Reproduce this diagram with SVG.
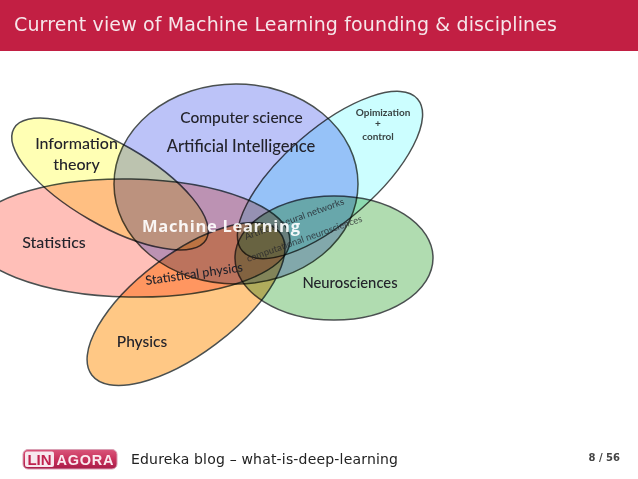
<svg xmlns="http://www.w3.org/2000/svg" width="638" height="479" viewBox="0 0 638 479">
<style>
.e{stroke:#4a5050;stroke-width:1.5;mix-blend-mode:multiply}
.t{font-family:"Lato","Open Sans",sans-serif;fill:#23232b;font-weight:500}
.s{font-weight:700;fill:#3a4444}
.d{font-family:"DejaVu Sans",sans-serif}
</style>
<defs>
<linearGradient id="lg" x1="0" y1="0" x2="0" y2="1"><stop offset="0" stop-color="#d9557a"/><stop offset=".5" stop-color="#c8325c"/><stop offset="1" stop-color="#a81c48"/></linearGradient>
</defs>
<rect width="638" height="479" fill="#fff"/>
<g id="header"><rect width="638" height="51" fill="#c21f43"/>
<text class="d" x="14" y="31" font-size="19" fill="#f6e6ea" textLength="543">Current view of Machine Learning founding &amp; disciplines</text></g>
<g id="connectors"></g>
<g id="statistics"><ellipse class="e" cx="130" cy="238" rx="160" ry="59" transform="rotate(1 130 238)" fill="#ffbfb8"/></g>
<g id="neurosciences"><ellipse class="e" cx="334" cy="258" rx="99" ry="62" fill="#b0dcb0"/></g>
<g id="computer-science"><ellipse class="e" cx="236" cy="184" rx="122" ry="100" fill="#bcc3f8"/></g>
<g id="information-theory"><ellipse class="e" cx="110" cy="184" rx="111" ry="41" transform="rotate(30 110 184)" fill="#ffffb4"/></g>
<g id="physics"><ellipse class="e" cx="186" cy="304" rx="118" ry="50" transform="rotate(-37 186 304)" fill="#ffc885"/></g>
<g id="optimization"><ellipse class="e" cx="330" cy="175" rx="116" ry="46" transform="rotate(-41 330 175)" fill="#ccfeff"/></g>
<g id="labels">
<text class="t" x="76.5" y="149" font-size="16" text-anchor="middle">Information</text>
<text class="t" x="76.5" y="170" font-size="16" text-anchor="middle">theory</text>
<text class="t" x="54" y="248" font-size="16" text-anchor="middle">Statistics</text>
<text class="t" x="241.5" y="123" font-size="15.5" text-anchor="middle">Computer science</text>
<text class="t" x="241" y="152" font-size="16.5" text-anchor="middle">Artificial Intelligence</text>
<text class="t s" x="383" y="116" font-size="10" text-anchor="middle">Opimization</text>
<text class="t s" x="378" y="127" font-size="10" text-anchor="middle">+</text>
<text class="t s" x="378" y="140" font-size="10" text-anchor="middle">control</text>
<text class="t" x="350" y="288" font-size="14.8" text-anchor="middle">Neurosciences</text>
<text class="t" x="142" y="347" font-size="15.5" text-anchor="middle">Physics</text>
<text class="t" transform="translate(146 285) rotate(-8)" font-size="12.7">Statistical physics</text>
<text class="t" transform="translate(246 240) rotate(-20)" font-size="9.5" fill-opacity=".75">Artificial neural networks</text>
<text class="t" transform="translate(248 262) rotate(-19.5)" font-size="9.5" fill-opacity=".7">computational neurosciences</text>
<text x="221" y="232" font-family="'Open Sans',sans-serif" font-weight="700" font-size="16.5" fill="#fff" fill-opacity=".92" text-anchor="middle" textLength="158">Machine Learning</text>
</g>
<g id="logo"><rect x="23" y="449.5" width="94" height="19.5" rx="5" fill="url(#lg)" stroke="#d9a0b4" stroke-width="1"/>
<rect x="25" y="451.5" width="29" height="15.5" rx="2" fill="#f7e8ee"/>
<text x="39.5" y="465" font-family="'Liberation Sans',sans-serif" font-weight="700" font-size="15" fill="#c0224e" text-anchor="middle">LIN</text>
<text x="85" y="465" font-family="'Liberation Sans',sans-serif" font-weight="700" font-size="14.5" fill="#fbeaf0" text-anchor="middle" textLength="57">AGORA</text></g>
<g id="footer"><text class="d" x="131" y="464" font-size="14" fill="#222" textLength="267">Edureka blog – what-is-deep-learning</text>
<text class="d" x="620" y="461" font-size="10" font-weight="700" fill="#444" text-anchor="end">8 / 56</text></g>
</svg>
